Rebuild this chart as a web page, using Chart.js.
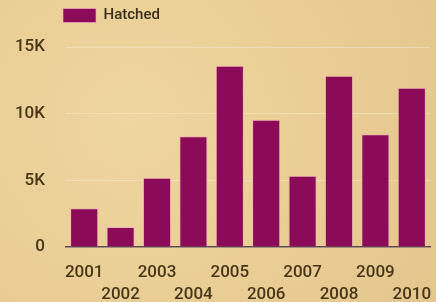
<!DOCTYPE html>
<html>
<head>
<meta charset="utf-8">
<script src="https://cdn.jsdelivr.net/npm/chart.js@4"></script>
<style>
  html, body { margin: 0; padding: 0; }
  body {
    width: 436px; height: 302px; overflow: hidden;
    background: #e7cb92;
    background-image: radial-gradient(circle at 30% 40%, rgba(244,220,166,0.6), rgba(224,192,134,0.4));
  }
  #wrap { width: 436px; height: 302px; position: relative; }
</style>
</head>
<body>
<div id="wrap"><canvas id="chart"></canvas></div>
<script>
// data
const years = ['2001', '2002', '2003', '2004', '2005', '2006', '2007', '2008', '2009', '2010'];
const hatched = [2900, 1500, 5200, 8300, 13600, 9550, 5350, 12850, 8450, 11950];
const yTicks = [0, 5000, 10000, 15000];
const yTickLabels = ['0', '5K', '10K', '15K'];

const inkColor = '#473718';
const barColor = '#8b0b58';

// staggered two-row x labels: odd years on top row, even years below
const xLabels = years.map((y, i) => (i % 2 === 0 ? [y, ''] : ['', y]));

const legendTweak = {
    id: 'legendTweak',
    beforeLayout(chart) {
        const l = chart.legend;
        if (l && !l._patched) {
            const fit = l.fit;
            l.fit = function () { fit.call(this); this.height = 47; };
            l._patched = true;
        }
    },
    afterLayout(chart) {
        if (chart.legend) chart.legend.left = 55;
    }
};

const ctx = document.getElementById('chart').getContext('2d');
new Chart(ctx, {
    type: 'bar',
    data: {
        labels: xLabels,
        datasets: [{
            label: 'Hatched',
            data: hatched,
            backgroundColor: barColor,
            borderColor: 'rgba(240,170,190,0.7)',
            borderWidth: 1,
            barPercentage: 0.86,
            categoryPercentage: 0.9
        }]
    },
    options: {
        responsive: true,
        maintainAspectRatio: false,
        animation: false,
        layout: { padding: { left: 0, right: 6, top: 0, bottom: 0 } },
        plugins: {
            legend: {
                align: 'start',
                labels: {
                    boxWidth: 33,
                    boxHeight: 14,
                    padding: 8,
                    color: '#3a2e1a',
                    font: { family: 'Roboto', size: 15, weight: '500' }
                }
            },
            tooltip: { enabled: false }
        },
        scales: {
            x: {
                grid: { display: false },
                border: { display: true, color: '#5c4450', width: 1.5 },
                afterFit: s => { s.height = 55; s.paddingLeft = 0; s.paddingRight = 0; },
                ticks: {
                    autoSkip: false,
                    maxRotation: 0,
                    padding: 7,
                    color: inkColor,
                    font: { family: 'Roboto', size: 17, weight: '500', lineHeight: 1.28 }
                }
            },
            y: {
                min: 0,
                max: 15000,
                afterFit: s => { s.width = 66; },
                afterBuildTicks: s => { s.ticks = yTicks.map(v => ({ value: v })); },
                grid: { color: 'rgba(255,255,255,0.3)', drawTicks: false },
                border: { display: false },
                ticks: {
                    padding: 21,
                    color: inkColor,
                    font: { family: 'Roboto', size: 17, weight: '500' },
                    callback: v => yTickLabels[yTicks.indexOf(v)]
                }
            }
        }
    },
    plugins: [legendTweak]
});
</script>
</body>
</html>
